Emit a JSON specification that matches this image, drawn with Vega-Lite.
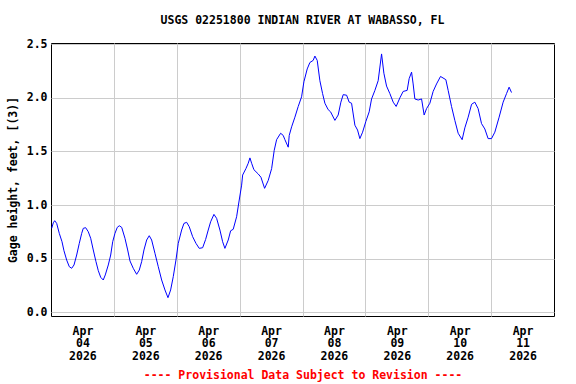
{
  "$schema": "https://vega.github.io/schema/vega-lite/v6.json",
  "width": 503,
  "height": 273,
  "autosize": {"type": "none"},
  "padding": {"left": 51, "top": 43, "right": 22, "bottom": 68},
  "background": "white",
  "title": {
    "text": "USGS 02251800 INDIAN RIVER AT WABASSO, FL",
    "font": "DejaVu Sans Mono",
    "fontSize": 11.5,
    "fontWeight": "bold",
    "color": "black",
    "anchor": "middle",
    "offset": 12
  },
  "config": {
    "view": {"stroke": "black", "strokeWidth": 1},
    "axis": {
      "labelFont": "DejaVu Sans Mono",
      "labelFontSize": 11.5,
      "labelFontWeight": "bold",
      "labelColor": "black",
      "titleFont": "DejaVu Sans Mono",
      "titleFontSize": 11.5,
      "titleFontWeight": "bold",
      "titleColor": "black",
      "domain": false,
      "ticks": false,
      "gridColor": "#cccccc",
      "gridWidth": 1,
      "gridOpacity": 1
    }
  },
  "data": {
    "values": [
      {"t": "2026-04-04T00:16", "v": 0.783},
      {"t": "2026-04-04T00:53", "v": 0.835},
      {"t": "2026-04-04T01:25", "v": 0.854},
      {"t": "2026-04-04T02:10", "v": 0.829},
      {"t": "2026-04-04T03:10", "v": 0.736},
      {"t": "2026-04-04T04:12", "v": 0.658},
      {"t": "2026-04-04T04:57", "v": 0.574},
      {"t": "2026-04-04T05:59", "v": 0.487},
      {"t": "2026-04-04T06:59", "v": 0.425},
      {"t": "2026-04-04T07:54", "v": 0.41},
      {"t": "2026-04-04T08:47", "v": 0.441},
      {"t": "2026-04-04T09:48", "v": 0.534},
      {"t": "2026-04-04T10:48", "v": 0.643},
      {"t": "2026-04-04T11:43", "v": 0.736},
      {"t": "2026-04-04T12:19", "v": 0.783},
      {"t": "2026-04-04T13:14", "v": 0.789},
      {"t": "2026-04-04T14:14", "v": 0.751},
      {"t": "2026-04-04T15:09", "v": 0.69},
      {"t": "2026-04-04T16:08", "v": 0.581},
      {"t": "2026-04-04T17:10", "v": 0.472},
      {"t": "2026-04-04T18:03", "v": 0.388},
      {"t": "2026-04-04T18:58", "v": 0.326},
      {"t": "2026-04-04T19:57", "v": 0.301},
      {"t": "2026-04-04T20:43", "v": 0.348},
      {"t": "2026-04-04T21:52", "v": 0.441},
      {"t": "2026-04-04T22:47", "v": 0.534},
      {"t": "2026-04-04T23:33", "v": 0.658},
      {"t": "2026-04-05T00:25", "v": 0.736},
      {"t": "2026-04-05T01:18", "v": 0.792},
      {"t": "2026-04-05T02:04", "v": 0.807},
      {"t": "2026-04-05T02:59", "v": 0.792},
      {"t": "2026-04-05T04:14", "v": 0.69},
      {"t": "2026-04-05T05:16", "v": 0.581},
      {"t": "2026-04-05T06:09", "v": 0.478},
      {"t": "2026-04-05T07:24", "v": 0.41},
      {"t": "2026-04-05T08:42", "v": 0.354},
      {"t": "2026-04-05T09:42", "v": 0.394},
      {"t": "2026-04-05T10:36", "v": 0.472},
      {"t": "2026-04-05T11:29", "v": 0.581},
      {"t": "2026-04-05T12:31", "v": 0.674},
      {"t": "2026-04-05T13:30", "v": 0.714},
      {"t": "2026-04-05T14:25", "v": 0.674},
      {"t": "2026-04-05T15:41", "v": 0.55},
      {"t": "2026-04-05T16:57", "v": 0.425},
      {"t": "2026-04-05T18:14", "v": 0.301},
      {"t": "2026-04-05T19:30", "v": 0.208},
      {"t": "2026-04-05T20:39", "v": 0.136},
      {"t": "2026-04-05T21:40", "v": 0.208},
      {"t": "2026-04-05T22:40", "v": 0.332},
      {"t": "2026-04-05T23:42", "v": 0.487},
      {"t": "2026-04-06T00:34", "v": 0.643},
      {"t": "2026-04-06T01:52", "v": 0.767},
      {"t": "2026-04-06T02:45", "v": 0.829},
      {"t": "2026-04-06T03:47", "v": 0.839},
      {"t": "2026-04-06T04:46", "v": 0.798},
      {"t": "2026-04-06T06:04", "v": 0.705},
      {"t": "2026-04-06T07:20", "v": 0.643},
      {"t": "2026-04-06T08:35", "v": 0.596},
      {"t": "2026-04-06T09:53", "v": 0.602},
      {"t": "2026-04-06T11:02", "v": 0.68},
      {"t": "2026-04-06T12:01", "v": 0.767},
      {"t": "2026-04-06T12:56", "v": 0.844},
      {"t": "2026-04-06T14:12", "v": 0.913},
      {"t": "2026-04-06T15:13", "v": 0.876},
      {"t": "2026-04-06T16:29", "v": 0.767},
      {"t": "2026-04-06T17:31", "v": 0.658},
      {"t": "2026-04-06T18:23", "v": 0.596},
      {"t": "2026-04-06T19:39", "v": 0.674},
      {"t": "2026-04-06T20:34", "v": 0.76},
      {"t": "2026-04-06T21:33", "v": 0.774},
      {"t": "2026-04-06T22:51", "v": 0.891},
      {"t": "2026-04-06T23:51", "v": 1.047},
      {"t": "2026-04-07T00:46", "v": 1.186},
      {"t": "2026-04-07T01:09", "v": 1.28},
      {"t": "2026-04-07T02:24", "v": 1.34},
      {"t": "2026-04-07T03:17", "v": 1.39},
      {"t": "2026-04-07T03:56", "v": 1.44},
      {"t": "2026-04-07T04:35", "v": 1.39},
      {"t": "2026-04-07T05:27", "v": 1.33},
      {"t": "2026-04-07T07:06", "v": 1.29},
      {"t": "2026-04-07T08:08", "v": 1.26},
      {"t": "2026-04-07T09:32", "v": 1.156},
      {"t": "2026-04-07T10:55", "v": 1.23},
      {"t": "2026-04-07T12:13", "v": 1.34},
      {"t": "2026-04-07T13:12", "v": 1.51},
      {"t": "2026-04-07T14:07", "v": 1.61},
      {"t": "2026-04-07T15:39", "v": 1.67},
      {"t": "2026-04-07T16:38", "v": 1.65},
      {"t": "2026-04-07T17:17", "v": 1.61},
      {"t": "2026-04-07T18:33", "v": 1.54},
      {"t": "2026-04-07T18:56", "v": 1.65},
      {"t": "2026-04-07T19:51", "v": 1.73},
      {"t": "2026-04-07T21:06", "v": 1.82},
      {"t": "2026-04-07T22:22", "v": 1.92},
      {"t": "2026-04-07T23:39", "v": 2.01},
      {"t": "2026-04-08T00:32", "v": 2.15},
      {"t": "2026-04-08T01:48", "v": 2.27},
      {"t": "2026-04-08T02:49", "v": 2.33},
      {"t": "2026-04-08T04:05", "v": 2.35},
      {"t": "2026-04-08T04:44", "v": 2.39},
      {"t": "2026-04-08T05:37", "v": 2.35},
      {"t": "2026-04-08T06:38", "v": 2.16},
      {"t": "2026-04-08T07:40", "v": 2.04},
      {"t": "2026-04-08T08:33", "v": 1.95},
      {"t": "2026-04-08T09:48", "v": 1.89},
      {"t": "2026-04-08T10:43", "v": 1.87},
      {"t": "2026-04-08T12:22", "v": 1.79},
      {"t": "2026-04-08T13:37", "v": 1.84},
      {"t": "2026-04-08T14:39", "v": 1.96},
      {"t": "2026-04-08T15:32", "v": 2.03},
      {"t": "2026-04-08T16:50", "v": 2.025},
      {"t": "2026-04-08T17:49", "v": 1.96},
      {"t": "2026-04-08T18:44", "v": 1.95},
      {"t": "2026-04-08T20:00", "v": 1.745},
      {"t": "2026-04-08T21:01", "v": 1.7},
      {"t": "2026-04-08T21:54", "v": 1.62},
      {"t": "2026-04-08T22:56", "v": 1.68},
      {"t": "2026-04-09T00:11", "v": 1.78},
      {"t": "2026-04-09T01:27", "v": 1.87},
      {"t": "2026-04-09T02:22", "v": 1.99},
      {"t": "2026-04-09T03:38", "v": 2.07},
      {"t": "2026-04-09T04:53", "v": 2.16},
      {"t": "2026-04-09T06:11", "v": 2.41},
      {"t": "2026-04-09T07:04", "v": 2.23},
      {"t": "2026-04-09T08:05", "v": 2.11},
      {"t": "2026-04-09T09:21", "v": 2.04},
      {"t": "2026-04-09T10:37", "v": 1.96},
      {"t": "2026-04-09T11:45", "v": 1.92},
      {"t": "2026-04-09T13:10", "v": 2.0},
      {"t": "2026-04-09T14:25", "v": 2.06},
      {"t": "2026-04-09T15:57", "v": 2.07},
      {"t": "2026-04-09T16:43", "v": 2.18},
      {"t": "2026-04-09T17:38", "v": 2.24},
      {"t": "2026-04-09T18:14", "v": 2.13},
      {"t": "2026-04-09T18:53", "v": 1.99},
      {"t": "2026-04-09T20:09", "v": 1.98},
      {"t": "2026-04-09T21:27", "v": 1.99},
      {"t": "2026-04-09T22:26", "v": 1.84},
      {"t": "2026-04-09T23:21", "v": 1.9},
      {"t": "2026-04-10T00:37", "v": 1.95},
      {"t": "2026-04-10T01:52", "v": 2.06},
      {"t": "2026-04-10T03:10", "v": 2.13},
      {"t": "2026-04-10T04:41", "v": 2.2},
      {"t": "2026-04-10T06:43", "v": 2.17},
      {"t": "2026-04-10T07:36", "v": 2.07},
      {"t": "2026-04-10T08:53", "v": 1.92},
      {"t": "2026-04-10T10:09", "v": 1.79},
      {"t": "2026-04-10T11:25", "v": 1.67},
      {"t": "2026-04-10T12:56", "v": 1.61},
      {"t": "2026-04-10T13:58", "v": 1.72},
      {"t": "2026-04-10T15:14", "v": 1.82},
      {"t": "2026-04-10T16:32", "v": 1.94},
      {"t": "2026-04-10T17:47", "v": 1.96},
      {"t": "2026-04-10T19:02", "v": 1.9},
      {"t": "2026-04-10T20:20", "v": 1.76},
      {"t": "2026-04-10T21:36", "v": 1.71},
      {"t": "2026-04-10T22:51", "v": 1.62},
      {"t": "2026-04-11T00:09", "v": 1.62},
      {"t": "2026-04-11T01:25", "v": 1.68},
      {"t": "2026-04-11T03:03", "v": 1.82},
      {"t": "2026-04-11T04:35", "v": 1.96},
      {"t": "2026-04-11T05:53", "v": 2.04},
      {"t": "2026-04-11T06:52", "v": 2.1},
      {"t": "2026-04-11T07:47", "v": 2.05}
    ]
  },
  "mark": {"type": "line", "color": "#0000ff", "strokeWidth": 1, "clip": true},
  "encoding": {
    "x": {
      "field": "t",
      "type": "temporal",
      "scale": {
        "domain": [
          {"year": 2026, "month": 4, "date": 4, "hours": 0},
          {"year": 2026, "month": 4, "date": 12, "hours": 0}
        ]
      },
      "axis": {
        "values": [
          {"year": 2026, "month": 4, "date": 4, "hours": 12},
          {"year": 2026, "month": 4, "date": 5, "hours": 0},
          {"year": 2026, "month": 4, "date": 5, "hours": 12},
          {"year": 2026, "month": 4, "date": 6, "hours": 0},
          {"year": 2026, "month": 4, "date": 6, "hours": 12},
          {"year": 2026, "month": 4, "date": 7, "hours": 0},
          {"year": 2026, "month": 4, "date": 7, "hours": 12},
          {"year": 2026, "month": 4, "date": 8, "hours": 0},
          {"year": 2026, "month": 4, "date": 8, "hours": 12},
          {"year": 2026, "month": 4, "date": 9, "hours": 0},
          {"year": 2026, "month": 4, "date": 9, "hours": 12},
          {"year": 2026, "month": 4, "date": 10, "hours": 0},
          {"year": 2026, "month": 4, "date": 10, "hours": 12},
          {"year": 2026, "month": 4, "date": 11, "hours": 0},
          {"year": 2026, "month": 4, "date": 11, "hours": 12}
        ],
        "labelExpr": "hours(datum.value) == 12 ? [timeFormat(datum.value, '%b'), timeFormat(datum.value, '%d'), timeFormat(datum.value, '%Y')] : ''",
        "labelLineHeight": 12.5,
        "labelPadding": 9,
        "labelAngle": 0,
        "labelOverlap": false,
        "labelFlush": false,
        "gridOpacity": {"expr": "hours(datum.value) == 0 ? 1 : 0"},
        "title": "---- Provisional Data Subject to Revision ----",
        "titleColor": "#ff0000",
        "titlePadding": 8
      }
    },
    "y": {
      "field": "v",
      "type": "quantitative",
      "scale": {"domain": [-0.035, 2.512], "nice": false, "zero": false},
      "axis": {
        "values": [0, 0.5, 1, 1.5, 2, 2.5],
        "format": ".1f",
        "labelPadding": 4,
        "title": "Gage height, feet, [(3)]",
        "titlePadding": 8
      }
    }
  }
}
